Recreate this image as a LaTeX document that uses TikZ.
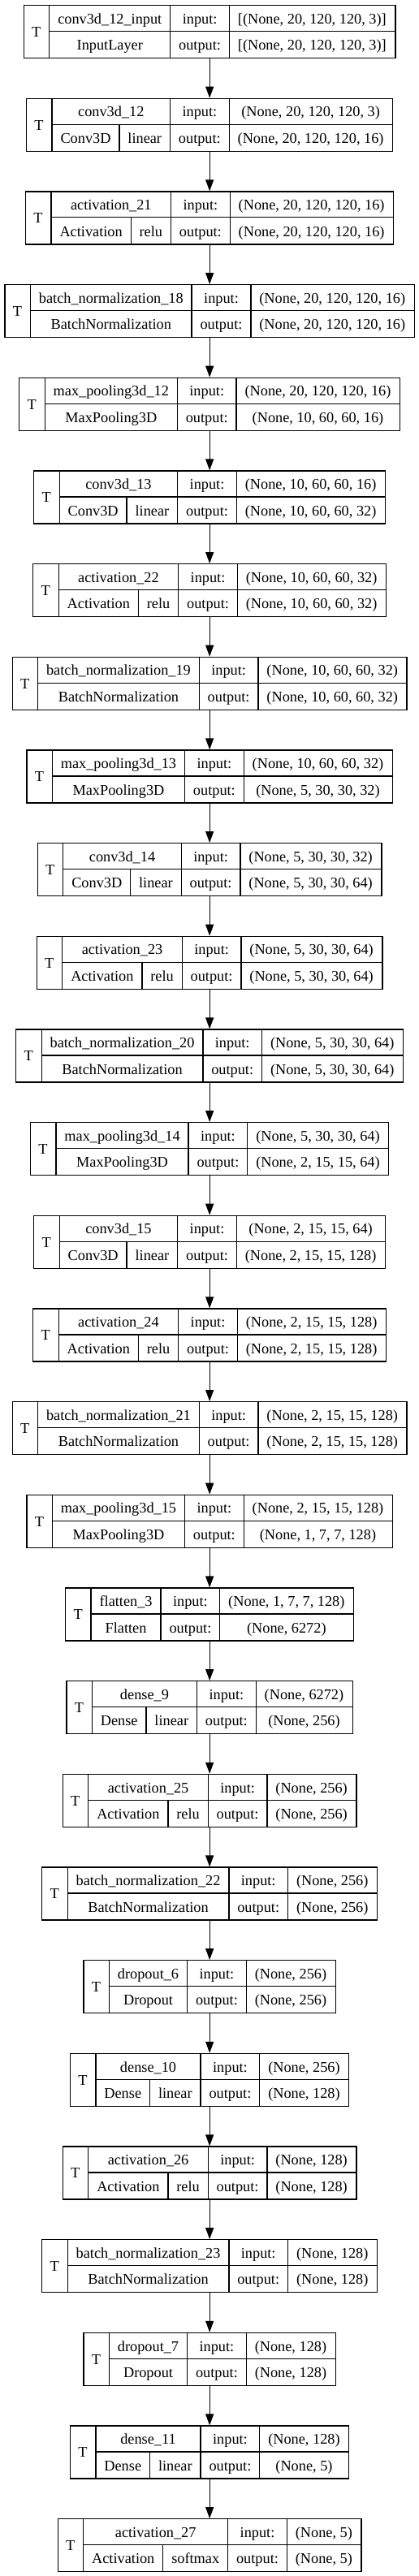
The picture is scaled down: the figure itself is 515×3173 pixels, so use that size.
\documentclass[tikz,border=0pt]{standalone}
\usepackage{fontspec}
\setmainfont{Liberation Serif}
\usetikzlibrary{arrows.meta}

% 字体与格子留白
\newcommand\layerfont{\normalfont\fontsize{18.29}{22}\selectfont}
\newdimen\padw \padw=20.9pt
\newdimen\wT \newdimen\wName \newdimen\wCls \newdimen\wAct
\newdimen\wIn \newdimen\wOut \newdimen\wOutput

% 量文字宽度
\newcommand\measure[2]{%
  \pgfinterruptpicture
    \setbox0=\hbox{\layerfont #2}\global#1=\wd0
  \endpgfinterruptpicture}

\tikzset{
  layerbox/.style={draw, line width=1.3pt, inner sep=0pt, minimum height=65pt, anchor=north west},
  sep/.style={line width=1.3pt},
  lbl/.style={inner sep=0pt, anchor=base, font=\layerfont},
  flow/.style={line width=1.3pt, -{Triangle[length=14pt, width=10pt]}}
}

% #1 节点名 #2 序号 #3 层名 #4 类型 #5 激活 #6 输入 #7 输出
\newcommand\drawlayer[7]{%
  \measure\wT{T}%
  \measure\wName{#3}%
  \measure\wCls{#4}%
  \measure\wAct{#5}%
  \measure\wIn{#6}%
  \measure\wOut{#7}%
  \measure\wOutput{output:}%
  \pgfmathsetmacro\yt{-6-#2*114.67}%
  \pgfmathsetmacro\cT{\the\wT+\the\padw}%
  \if\relax\detokenize{#5}\relax
    \pgfmathsetmacro\cN{max(\the\wName,\the\wCls)+\the\padw}%
    \pgfmathsetmacro\cC{\cN}%
  \else
    \pgfmathsetmacro\cN{max(\the\wName+\the\padw,\the\wCls+\the\wAct+2*\the\padw)}%
    \pgfmathsetmacro\cC{\the\wCls+\the\padw+(\cN-\the\wCls-\the\wAct-2*\the\padw)/2}%
  \fi
  \pgfmathsetmacro\cI{\the\wOutput+\the\padw}%
  \pgfmathsetmacro\cV{max(\the\wIn,\the\wOut)+\the\padw}%
  \pgfmathsetmacro\wB{\cT+\cN+\cI+\cV}%
  \pgfmathsetmacro\xa{257.5-\wB/2}%
  \pgfmathsetmacro\xb{\xa+\cT}%
  \pgfmathsetmacro\xc{\xb+\cN}%
  \pgfmathsetmacro\xd{\xc+\cI}%
  \pgfmathsetmacro\xe{\xd+\cV}%
  \pgfmathsetmacro\xm{\xb+\cC}%
  \node[layerbox, minimum width=\wB pt] (#1) at (\xa,\yt) {};
  \draw[sep] (\xb,\yt) -- (\xb,\yt-65);
  \draw[sep] (\xc,\yt) -- (\xc,\yt-65);
  \draw[sep] (\xd,\yt) -- (\xd,\yt-65);
  \draw[sep] (\xb,\yt-32.5) -- (\xe,\yt-32.5);
  \node[lbl] (#1-t) at ({(\xa+\xb)/2},\yt-39.5) {T};
  \node[lbl] (#1-n) at ({(\xb+\xc)/2},\yt-23.25) {#3};
  \if\relax\detokenize{#5}\relax
    \node[lbl] (#1-c) at ({(\xb+\xc)/2},\yt-55.75) {#4};
  \else
    \draw[sep] (\xm,\yt-32.5) -- (\xm,\yt-65);
    \node[lbl] (#1-c) at ({(\xb+\xm)/2},\yt-55.75) {#4};
    \node[lbl] (#1-a) at ({(\xm+\xc)/2},\yt-55.75) {#5};
  \fi
  \node[lbl] (#1-i) at ({(\xc+\xd)/2},\yt-23.25) {input:};
  \node[lbl] (#1-o) at ({(\xc+\xd)/2},\yt-55.75) {output:};
  \node[lbl] (#1-in) at ({(\xd+\xe)/2},\yt-23.25) {#6};
  \node[lbl] (#1-out) at ({(\xd+\xe)/2},\yt-55.75) {#7};
}

\begin{document}
\begin{tikzpicture}[x=1pt, y=1pt]
        \useasboundingbox (0,0) rectangle (515,-3173);

        % 卷积部分
        \drawlayer{inp}{0}{conv3d\_12\_input}{InputLayer}{}{[(None, 20, 120, 120, 3)]}{[(None, 20, 120, 120, 3)]}
        \drawlayer{c12}{1}{conv3d\_12}{Conv3D}{linear}{(None, 20, 120, 120, 3)}{(None, 20, 120, 120, 16)}
        \drawlayer{a21}{2}{activation\_21}{Activation}{relu}{(None, 20, 120, 120, 16)}{(None, 20, 120, 120, 16)}
        \drawlayer{bn18}{3}{batch\_normalization\_18}{BatchNormalization}{}{(None, 20, 120, 120, 16)}{(None, 20, 120, 120, 16)}
        \drawlayer{mp12}{4}{max\_pooling3d\_12}{MaxPooling3D}{}{(None, 20, 120, 120, 16)}{(None, 10, 60, 60, 16)}
        \drawlayer{c13}{5}{conv3d\_13}{Conv3D}{linear}{(None, 10, 60, 60, 16)}{(None, 10, 60, 60, 32)}
        \drawlayer{a22}{6}{activation\_22}{Activation}{relu}{(None, 10, 60, 60, 32)}{(None, 10, 60, 60, 32)}
        \drawlayer{bn19}{7}{batch\_normalization\_19}{BatchNormalization}{}{(None, 10, 60, 60, 32)}{(None, 10, 60, 60, 32)}
        \drawlayer{mp13}{8}{max\_pooling3d\_13}{MaxPooling3D}{}{(None, 10, 60, 60, 32)}{(None, 5, 30, 30, 32)}
        \drawlayer{c14}{9}{conv3d\_14}{Conv3D}{linear}{(None, 5, 30, 30, 32)}{(None, 5, 30, 30, 64)}
        \drawlayer{a23}{10}{activation\_23}{Activation}{relu}{(None, 5, 30, 30, 64)}{(None, 5, 30, 30, 64)}
        \drawlayer{bn20}{11}{batch\_normalization\_20}{BatchNormalization}{}{(None, 5, 30, 30, 64)}{(None, 5, 30, 30, 64)}
        \drawlayer{mp14}{12}{max\_pooling3d\_14}{MaxPooling3D}{}{(None, 5, 30, 30, 64)}{(None, 2, 15, 15, 64)}
        \drawlayer{c15}{13}{conv3d\_15}{Conv3D}{linear}{(None, 2, 15, 15, 64)}{(None, 2, 15, 15, 128)}
        \drawlayer{a24}{14}{activation\_24}{Activation}{relu}{(None, 2, 15, 15, 128)}{(None, 2, 15, 15, 128)}
        \drawlayer{bn21}{15}{batch\_normalization\_21}{BatchNormalization}{}{(None, 2, 15, 15, 128)}{(None, 2, 15, 15, 128)}
        \drawlayer{mp15}{16}{max\_pooling3d\_15}{MaxPooling3D}{}{(None, 2, 15, 15, 128)}{(None, 1, 7, 7, 128)}

        % 全连接部分
        \drawlayer{fl3}{17}{flatten\_3}{Flatten}{}{(None, 1, 7, 7, 128)}{(None, 6272)}
        \drawlayer{d9}{18}{dense\_9}{Dense}{linear}{(None, 6272)}{(None, 256)}
        \drawlayer{a25}{19}{activation\_25}{Activation}{relu}{(None, 256)}{(None, 256)}
        \drawlayer{bn22}{20}{batch\_normalization\_22}{BatchNormalization}{}{(None, 256)}{(None, 256)}
        \drawlayer{do6}{21}{dropout\_6}{Dropout}{}{(None, 256)}{(None, 256)}
        \drawlayer{d10}{22}{dense\_10}{Dense}{linear}{(None, 256)}{(None, 128)}
        \drawlayer{a26}{23}{activation\_26}{Activation}{relu}{(None, 128)}{(None, 128)}
        \drawlayer{bn23}{24}{batch\_normalization\_23}{BatchNormalization}{}{(None, 128)}{(None, 128)}
        \drawlayer{do7}{25}{dropout\_7}{Dropout}{}{(None, 128)}{(None, 128)}
        \drawlayer{d11}{26}{dense\_11}{Dense}{linear}{(None, 128)}{(None, 5)}
        \drawlayer{a27}{27}{activation\_27}{Activation}{softmax}{(None, 5)}{(None, 5)}

        % 箭头
        \draw[flow] (inp) -- (c12);
        \draw[flow] (c12) -- (a21);
        \draw[flow] (a21) -- (bn18);
        \draw[flow] (bn18) -- (mp12);
        \draw[flow] (mp12) -- (c13);
        \draw[flow] (c13) -- (a22);
        \draw[flow] (a22) -- (bn19);
        \draw[flow] (bn19) -- (mp13);
        \draw[flow] (mp13) -- (c14);
        \draw[flow] (c14) -- (a23);
        \draw[flow] (a23) -- (bn20);
        \draw[flow] (bn20) -- (mp14);
        \draw[flow] (mp14) -- (c15);
        \draw[flow] (c15) -- (a24);
        \draw[flow] (a24) -- (bn21);
        \draw[flow] (bn21) -- (mp15);
        \draw[flow] (mp15) -- (fl3);
        \draw[flow] (fl3) -- (d9);
        \draw[flow] (d9) -- (a25);
        \draw[flow] (a25) -- (bn22);
        \draw[flow] (bn22) -- (do6);
        \draw[flow] (do6) -- (d10);
        \draw[flow] (d10) -- (a26);
        \draw[flow] (a26) -- (bn23);
        \draw[flow] (bn23) -- (do7);
        \draw[flow] (do7) -- (d11);
        \draw[flow] (d11) -- (a27);
\end{tikzpicture}
\end{document}
